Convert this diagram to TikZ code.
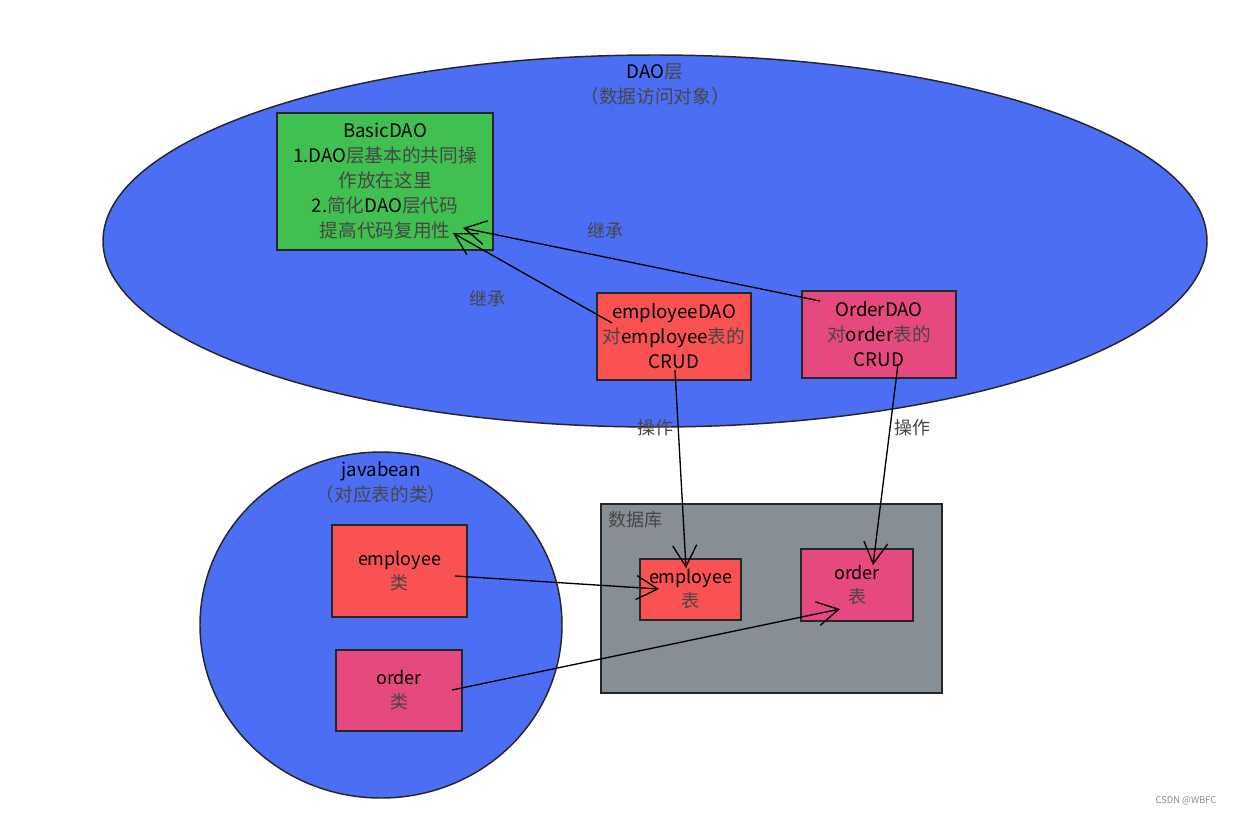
\documentclass[tikz,border=0pt]{standalone}
\usepackage{fontspec}
\setmainfont{Noto Sans CJK SC}
\usetikzlibrary{shapes.geometric,arrows.meta}
\definecolor{daoblue}{RGB}{76,110,245}
\definecolor{boxgreen}{RGB}{64,192,80}
\definecolor{boxred}{RGB}{250,82,82}
\definecolor{boxpink}{RGB}{230,73,128}
\definecolor{dbgray}{RGB}{134,142,150}
\definecolor{zhgray}{RGB}{70,70,70}
\newcommand{\zh}[1]{\textcolor{zhgray}{#1}}
\tikzset{
  sk/.style={draw=black!85, line width=1.1pt, inner sep=0pt, outer sep=0pt, align=center},
  boxtxt/.style={font=\fontsize{14}{18.75}\selectfont},
  smalltxt/.style={font=\fontsize{13.5}{18}\selectfont},
  conn/.style={draw=black, line width=1pt, -{Straight Barb[length=16pt,width=18pt,line width=1pt]}},
  lbl/.style={text=zhgray, font=\fontsize{13.5}{16}\selectfont, inner sep=0pt}
}
\begin{document}
\begin{tikzpicture}[x=0.75pt,y=-0.75pt]
\useasboundingbox[fill=white] (0,0) rectangle (1235,815);
% DAO layer ellipse
\node[sk, ellipse, fill=daoblue, minimum width=828pt, minimum height=279pt] (dao) at (655,241) {};
\node[lbl, font=\fontsize{14}{18.75}\selectfont, align=center] (daot) at (655,84) {\textcolor{black}{DAO}\zh{层}\\\zh{（数据访问对象）}};
% BasicDAO
\node[sk, boxtxt, fill=boxgreen, minimum width=162pt, minimum height=102.75pt] (basic) at (385,181.5)
  {BasicDAO\\1.DAO\zh{层基本的共同操}\\\zh{作放在这里}\\2.\zh{简化}DAO\zh{层代码}\\\zh{提高代码复用性}};
% employeeDAO
\node[sk, boxtxt, fill=boxred, minimum width=115.5pt, minimum height=65.25pt] (edao) at (674,336.5)
  {employeeDAO\\\zh{对}employee\zh{表的}\\CRUD};
% OrderDAO
\node[sk, boxtxt, fill=boxpink, minimum width=115.5pt, minimum height=65.25pt] (odao) at (879,334.5)
  {OrderDAO\\\zh{对}order\zh{表的}\\CRUD};
% javabean circle
\node[sk, ellipse, fill=daoblue, minimum width=271.5pt, minimum height=259.5pt] (jb) at (381,625) {};
\node[lbl, font=\fontsize{14}{18.75}\selectfont, align=center] (jbt) at (381,482) {\textcolor{black}{javabean}\\\zh{（对应表的类）}};
\node[sk, smalltxt, fill=boxred, minimum width=101.25pt, minimum height=69pt] (ecls) at (399.5,571) {employee\\\zh{类}};
\node[sk, smalltxt, fill=boxpink, minimum width=94.5pt, minimum height=60.75pt] (ocls) at (399,690.5) {order\\\zh{类}};
% database
\node[sk, fill=dbgray, minimum width=255.75pt, minimum height=141.75pt] (db) at (771.5,598.5) {};
\node[lbl, anchor=west] (dbt) at (608,520) {数据库};
\node[sk, smalltxt, fill=boxred, minimum width=75.75pt, minimum height=45.75pt] (etab) at (690.5,589.5) {employee\\\zh{表}};
\node[sk, smalltxt, fill=boxpink, minimum width=84pt, minimum height=54pt] (otab) at (857,585) {order\\\zh{表}};
% connector end points
\coordinate (e1s) at (612,323); \coordinate (e1t) at (453,233);
\coordinate (o1s) at (820,301); \coordinate (o1t) at (463,228);
\coordinate (e2s) at (675,370); \coordinate (e2t) at (686,568);
\coordinate (o2s) at (898,364); \coordinate (o2t) at (873,565);
\coordinate (e3s) at (455,576); \coordinate (e3t) at (659,589);
\coordinate (o3s) at (452,690); \coordinate (o3t) at (840,609);
\draw[conn] (e1s) -- (e1t);
\draw[conn] (o1s) -- (o1t);
\draw[conn] (e2s) -- (e2t);
\draw[conn] (o2s) -- (o2t);
\draw[conn] (e3s) -- (e3t);
\draw[conn] (o3s) -- (o3t);
% labels
\node[lbl] (l1) at (487,299) {继承};
\node[lbl] (l2) at (605,231) {继承};
\node[lbl] (l3) at (655,428) {操作};
\node[lbl] (l4) at (912,428) {操作};
\node[text=black!45, font=\fontsize{7}{8}\selectfont, inner sep=0pt] (wm) at (1186,801) {CSDN @WBFC};
\end{tikzpicture}
\end{document}
